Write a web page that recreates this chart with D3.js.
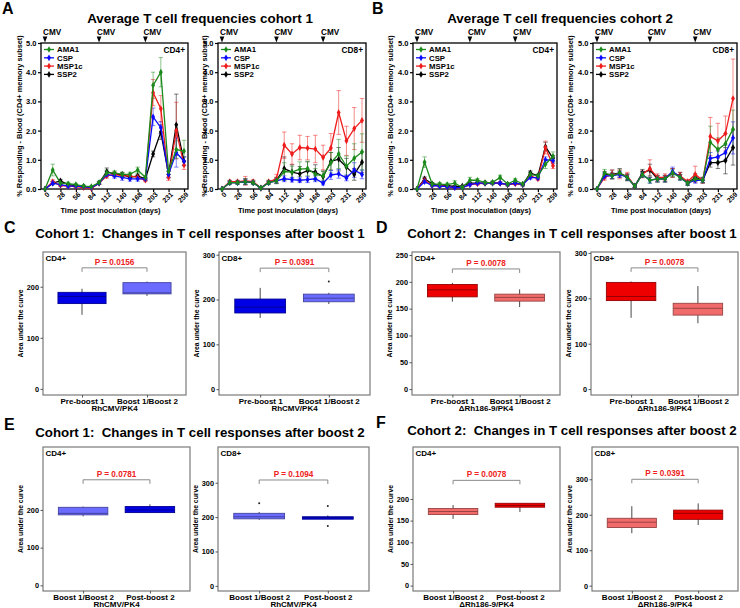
<!DOCTYPE html>
<html><head><meta charset="utf-8">
<script src="https://cdn.jsdelivr.net/npm/d3@7"></script>
<style>
body{margin:0;background:#fff}
svg{font-family:"Liberation Sans",Arial,Helvetica,sans-serif}
</style>
</head><body>
<svg id="chart" width="740" height="608"></svg>
<script>
// ---------- time-course data ----------
const days = [0,14,28,42,56,70,84,98,112,126,140,154,168,182,203,217,231,245,259];
const dayTicks = [0,28,56,84,112,140,168,203,231,259];
const cmvDays = [0,98,182];
const antigens = ["AMA1","CSP","MSP1c","SSP2"];
const antigenColors = ["#1b8a1b","#0a0aff","#ee1c1c","#000000"];

// Cohort 1, CD4+
const c1cd4_AMA1  = [0,0.65,0.2,0.18,0.15,0.1,0.08,0.22,0.55,0.55,0.5,0.5,0.65,0.4,3.55,4.0,0.6,1.35,1.3];
const c1cd4_CSP   = [0,0.2,0.15,0.1,0.1,0.08,0.05,0.2,0.5,0.45,0.4,0.35,0.35,0.35,2.47,2.1,0.5,1.25,0.95];
const c1cd4_MSP1c = [0,0.25,0.12,0.1,0.08,0.05,0.02,0.2,0.45,0.5,0.45,0.45,0.4,0.3,3.3,2.75,0.4,2.0,0.82];
const c1cd4_SSP2  = [0,0.2,0.28,0.15,0.12,0.08,0.05,0.2,0.6,0.5,0.5,0.4,0.45,0.35,1.2,1.95,0.5,2.2,0.95];
const c1cd4_AMA1_err  = [0,0.2,0.05,0.05,0.04,0.04,0.03,0.05,0.1,0.07,0.07,0.07,0.1,0.06,0.45,0.5,0.1,0.3,0.37];
const c1cd4_CSP_err   = [0,0.05,0.04,0.04,0.03,0.03,0.02,0.04,0.08,0.08,0.1,0.08,0.08,0.06,0.3,0.2,0.1,0.5,0.15];
const c1cd4_MSP1c_err = [0,0.06,0.04,0.04,0.03,0.03,0.02,0.04,0.08,0.07,0.07,0.06,0.06,0.05,0.45,0.45,0.1,0.97,0.15];
const c1cd4_SSP2_err  = [0,0.05,0.05,0.04,0.03,0.03,0.02,0.04,0.12,0.08,0.07,0.06,0.06,0.05,0.1,0.25,0.12,1.05,0.15];

// Cohort 1, CD8+
const c1cd8_AMA1  = [0,0.22,0.22,0.25,0.22,0.03,0.22,0.28,0.6,0.58,0.68,0.7,0.5,0.45,0.9,1.2,0.78,1.05,1.27];
const c1cd8_CSP   = [0,0.22,0.22,0.25,0.22,0.03,0.22,0.28,0.35,0.32,0.3,0.32,0.35,0.2,0.48,0.52,0.38,0.65,0.5];
const c1cd8_MSP1c = [0,0.25,0.25,0.28,0.25,0.03,0.25,0.35,1.5,1.2,1.42,1.4,1.37,1.08,1.4,2.62,1.65,2.07,2.35];
const c1cd8_SSP2  = [0,0.22,0.22,0.25,0.22,0.03,0.22,0.3,0.7,0.58,0.52,0.63,0.58,0.42,0.95,1.02,0.75,0.5,0.92];
const c1cd8_AMA1_err  = [0,0.05,0.05,0.1,0.05,0.02,0.05,0.1,0.3,0.2,0.25,0.25,0.2,0.15,0.35,0.5,0.35,0.5,0.62];
const c1cd8_CSP_err   = [0,0.05,0.05,0.08,0.05,0.02,0.05,0.08,0.1,0.08,0.08,0.1,0.1,0.06,0.15,0.15,0.1,0.25,0.15];
const c1cd8_MSP1c_err = [0,0.05,0.05,0.15,0.06,0.02,0.05,0.15,0.45,0.35,0.42,0.4,0.47,0.42,0.5,0.75,0.5,0.72,0.75];
const c1cd8_SSP2_err  = [0,0.05,0.05,0.1,0.05,0.02,0.05,0.1,0.4,0.25,0.25,0.3,0.25,0.2,0.3,0.4,0.3,0.2,0.35];

// Cohort 2, CD4+
const c2cd4_AMA1  = [0,0.92,0.17,0.17,0.15,0.2,0.05,0.3,0.3,0.22,0.22,0.4,0.17,0.3,0.17,0.5,0.45,0.85,1.12];
const c2cd4_CSP   = [0,0.25,0.12,0.1,0.08,0.05,0.05,0.15,0.2,0.2,0.2,0.2,0.15,0.2,0.15,0.4,0.38,1.0,0.98];
const c2cd4_MSP1c = [0,0.3,0.12,0.12,0.08,0.05,0.05,0.15,0.18,0.2,0.2,0.2,0.15,0.18,0.15,0.45,0.35,1.42,0.8];
const c2cd4_SSP2  = [0,0.35,0.18,0.12,0.12,0.08,0.1,0.2,0.2,0.2,0.22,0.2,0.15,0.2,0.15,0.55,0.45,1.45,1.05];
const c2cd4_AMA1_err  = [0,0.18,0.05,0.05,0.05,0.08,0.03,0.1,0.05,0.05,0.05,0.07,0.04,0.05,0.04,0.08,0.06,0.15,0.15];
const c2cd4_CSP_err   = [0,0.05,0.04,0.04,0.03,0.03,0.02,0.04,0.04,0.04,0.04,0.04,0.04,0.04,0.04,0.06,0.05,0.1,0.1];
const c2cd4_MSP1c_err = [0,0.06,0.04,0.04,0.03,0.03,0.02,0.04,0.04,0.04,0.04,0.04,0.04,0.04,0.04,0.06,0.05,0.22,0.1];
const c2cd4_SSP2_err  = [0,0.06,0.04,0.04,0.03,0.03,0.02,0.04,0.04,0.04,0.04,0.04,0.04,0.04,0.04,0.07,0.05,0.15,0.1];

// Cohort 2, CD8+
const c2cd8_AMA1  = [0,0.55,0.45,0.55,0.4,0.1,0.5,0.3,0.35,0.35,0.55,0.4,0.2,0.35,0.3,1.6,1.35,1.55,2.05];
const c2cd8_CSP   = [0,0.45,0.45,0.5,0.4,0.1,0.5,0.3,0.35,0.35,0.6,0.4,0.2,0.3,0.3,1.05,1.1,1.25,1.75];
const c2cd8_MSP1c = [0,0.4,0.5,0.5,0.45,0.1,0.5,0.7,0.4,0.4,0.55,0.45,0.25,0.5,0.3,1.8,1.65,1.9,3.1];
const c2cd8_SSP2  = [0,0.5,0.5,0.55,0.4,0.1,0.55,0.65,0.35,0.35,0.55,0.45,0.2,0.4,0.3,0.9,0.9,0.97,1.42];
const c2cd8_AMA1_err  = [0,0.12,0.1,0.1,0.1,0.05,0.1,0.1,0.1,0.1,0.12,0.1,0.06,0.1,0.08,0.55,0.4,0.35,0.65];
const c2cd8_CSP_err   = [0,0.1,0.1,0.1,0.1,0.05,0.1,0.1,0.1,0.1,0.15,0.1,0.06,0.1,0.08,0.2,0.2,0.25,0.55];
const c2cd8_MSP1c_err = [0,0.1,0.15,0.15,0.12,0.05,0.12,0.3,0.12,0.12,0.15,0.12,0.08,0.28,0.1,0.65,0.6,0.6,1.35];
const c2cd8_SSP2_err  = [0,0.1,0.15,0.15,0.12,0.05,0.12,0.2,0.12,0.12,0.15,0.12,0.08,0.12,0.1,0.15,0.2,0.45,0.6];

// ---------- box-plot data (low whisker, Q1, median, Q3, high whisker) ----------
const boost1Cats = ["Pre-boost 1","Boost 1/Boost 2"];
const boost2Cats = ["Boost 1/Boost 2","Post-boost 2"];
const boxC_cd4 = [[145,167,181,189,196],[182,186,188,208,210]];
const boxC_cd8 = [[159,170,183,201,226],[190,195,203,212,215]];
const outC_cd8 = [[],[240]];
const boxD_cd4 = [[163,172,185,195,198],[153,164,171,177,186]];
const boxD_cd8 = [[157,195,204,235,237],[145,163,178,189,227]];
const boxE_cd4 = [[183,187,191,207,209],[193,193,200,209,215]];
const boxE_cd8 = [[192,195,201,211,215],[195,194,198,201,205]];
const outE_cd8 = [[240],[232,174]];
const boxF_cd4 = [[154,164,171,178,186],[170,181,185,190,190]];
const boxF_cd8 = [[148,164,179,190,224],[171,187,204,213,232]];
const pValues = ["P = 0.0156","P = 0.0391","P = 0.0078","P = 0.0078","P = 0.0781","P = 0.1094","P = 0.0078","P = 0.0391"];
const blueDark = "#0000e6", blueLight = "#6b6bff", redDark = "#ee0000", redLight = "#f26b6b";

const svg = d3.select("#chart");
const F = "Liberation Sans, Arial, sans-serif";

function txt(x, y, s, size, opts={}) {
  const t = svg.append("text").attr("x", x).attr("y", y).text(s)
    .attr("font-size", size).attr("font-weight", opts.weight || "bold")
    .attr("fill", opts.fill || "#000").attr("text-anchor", opts.anchor || "start")
    .style("white-space", "pre");
  if (opts.rotate) t.attr("transform", `rotate(-90,${x},${y})`);
  return t;
}

function timePanel(x0, x1, subset, series, errs, yTitleX) {
  const yTop = 43, yBot = 189;
  const x = d3.scalePoint().domain(days).range([x0 + 4, x1 - 4]);
  const y = d3.scaleLinear().domain([0, 5]).range([yBot, yTop]);
  const g = svg.append("g");
  g.append("rect").attr("x", x0).attr("y", yTop).attr("width", x1 - x0).attr("height", yBot - yTop)
    .attr("fill", "none").attr("stroke", "#000").attr("stroke-width", 1.3);
  const ya = g.append("g").attr("transform", `translate(${x0},0)`)
    .call(d3.axisLeft(y).tickValues([0,1,2,3,4,5]).tickFormat(d3.format(".1f")).tickSize(3).tickPadding(1.5));
  ya.select(".domain").remove();
  ya.selectAll("line").attr("stroke", "#000").attr("stroke-width", 1.2);
  ya.selectAll("text").attr("font-size", 7.5).attr("font-weight", "bold").attr("font-family", F);
  const xa = g.append("g").attr("transform", `translate(0,${yBot})`)
    .call(d3.axisBottom(x).tickValues(dayTicks).tickSize(3));
  xa.select(".domain").remove();
  xa.selectAll("line").attr("stroke", "#000").attr("stroke-width", 1.2);
  xa.selectAll("text").attr("font-size", 7).attr("font-weight", "bold").attr("font-family", F)
    .attr("text-anchor", "end").attr("x", -1).attr("y", 5).attr("dy", "0.35em")
    .attr("transform", "rotate(-45)");
  // CMV markers
  cmvDays.forEach(d => {
    const cx = x(d);
    g.append("path").attr("d", `M${cx-2.3},${yTop-6.5}L${cx+2.3},${yTop-6.5}L${cx},${yTop-0.5}Z`).attr("fill", "#000");
    g.append("text").attr("x", cx - 2).attr("y", yTop - 8.5).text("CMV").attr("font-size", 8.2)
      .attr("font-weight", "bold").attr("font-family", F);
  });
  // error bars
  const order = [3, 2, 1, 0];
  order.forEach(k => {
    const col = antigenColors[k];
    const eg = g.append("g").attr("stroke", col).attr("stroke-opacity", 0.5).attr("stroke-width", 1);
    series[k].forEach((v, i) => {
      const e = errs[k][i];
      if (e <= 0) return;
      const cx = x(days[i]);
      eg.append("line").attr("x1", cx).attr("x2", cx).attr("y1", y(v - e)).attr("y2", y(v + e));
      eg.append("line").attr("x1", cx - 2.2).attr("x2", cx + 2.2).attr("y1", y(v + e)).attr("y2", y(v + e));
      eg.append("line").attr("x1", cx - 2.2).attr("x2", cx + 2.2).attr("y1", y(v - e)).attr("y2", y(v - e));
    });
  });
  const line = d3.line().x((d, i) => x(days[i])).y(d => y(d));
  const sym = d3.symbol().type(d3.symbolDiamond).size(13);
  order.forEach(k => {
    const col = antigenColors[k];
    g.append("path").datum(series[k]).attr("d", line).attr("fill", "none").attr("stroke", col).attr("stroke-width", 1.3);
    g.selectAll(null).data(series[k]).enter().append("path").attr("d", sym)
      .attr("transform", (d, i) => `translate(${x(days[i])},${y(d)})`).attr("fill", col);
  });
  // legend
  antigens.forEach((a, i) => {
    const ly = 49.5 + i * 8.3;
    g.append("line").attr("x1", x0 + 3).attr("x2", x0 + 13).attr("y1", ly).attr("y2", ly)
      .attr("stroke", antigenColors[i]).attr("stroke-width", 1.3);
    g.append("path").attr("d", sym).attr("transform", `translate(${x0 + 8},${ly})`).attr("fill", antigenColors[i]);
    g.append("text").attr("x", x0 + 16).attr("y", ly + 2.8).text(a).attr("font-size", 7.8)
      .attr("font-weight", "bold").attr("font-family", F);
  });
  txt(x1 - 3, 53, subset, 8.3, {anchor: "end"});
  txt(yTitleX, (yTop + yBot) / 2, `% Responding - Blood (${subset} memory subset)`, 7.4, {anchor: "middle", rotate: true});
  txt((x0 + x1) / 2 - 4, 213, "Time post inoculation (days)", 7.4, {anchor: "middle"});
}

function boxPanel(o) {
  const {x0, x1, yTop, yBot, domain, ticks, cats, stats, outl, colors, brY, p, subset, group} = o;
  const y = d3.scaleLinear().domain(domain).range([yBot, yTop]);
  const x = d3.scalePoint().domain(cats).range([x0, x1]).padding(0.6);
  const bw = x.step() * 0.74;
  const g = svg.append("g");
  g.append("rect").attr("x", x0).attr("y", yTop).attr("width", x1 - x0).attr("height", yBot - yTop)
    .attr("fill", "none").attr("stroke", "#7a7a7a").attr("stroke-width", 1.2);
  const ya = g.append("g").attr("transform", `translate(${x0},0)`)
    .call(d3.axisLeft(y).tickValues(ticks).tickSize(2.5).tickPadding(1.5));
  ya.select(".domain").remove();
  ya.selectAll("line").attr("stroke", "#555");
  ya.selectAll("text").attr("font-size", 7.3).attr("font-weight", "bold").attr("font-family", F);
  const xa = g.append("g").attr("transform", `translate(0,${yBot})`)
    .call(d3.axisBottom(x).tickSize(2.5).tickPadding(0.6));
  xa.select(".domain").remove();
  xa.selectAll("line").attr("stroke", "#555");
  xa.selectAll("text").attr("font-size", 8).attr("font-weight", "bold").attr("font-family", F);
  stats.forEach((s, i) => {
    const cx = x(cats[i]);
    const dark = d3.color(colors[i]).darker(1.3);
    g.append("line").attr("x1", cx).attr("x2", cx).attr("y1", y(s[0])).attr("y2", y(s[4]))
      .attr("stroke", "#333").attr("stroke-width", 0.9);
    g.append("rect").attr("x", cx - bw / 2).attr("width", bw)
      .attr("y", y(Math.max(s[1], s[3]))).attr("height", Math.abs(y(s[1]) - y(s[3])))
      .attr("fill", colors[i]).attr("stroke", dark).attr("stroke-width", 0.9);
    g.append("line").attr("x1", cx - bw / 2).attr("x2", cx + bw / 2).attr("y1", y(s[2])).attr("y2", y(s[2]))
      .attr("stroke", dark).attr("stroke-width", 1);
    (outl ? outl[i] : []).forEach(v => {
      g.append("circle").attr("cx", cx).attr("cy", y(v)).attr("r", 1).attr("fill", "#222");
    });
  });
  const xa0 = x(cats[0]), xb = x(cats[1]), by = y(brY);
  g.append("path").attr("d", `M${xa0},${by + 4}V${by}H${xb}V${by + 4}`)
    .attr("fill", "none").attr("stroke", "#8a8a8a").attr("stroke-width", 1);
  txt((xa0 + xb) / 2, by - 3, p, 8.2, {anchor: "middle", fill: "#ee2222"});
  txt(x0 + 2.5, yTop + 9, subset, 8, {});
  txt(x0 - 20, (yTop + yBot) / 2, "Area under the curve", 6.8, {anchor: "middle", rotate: true});
  txt((xa0 + xb) / 2, yBot + 16, group, 8, {anchor: "middle"});
}

// ---------- headers ----------
txt(2, 14, "A", 16);
txt(372, 14, "B", 16);
txt(200, 23, "Average T cell frequencies cohort 1", 13.4, {anchor: "middle"});
txt(560, 23, "Average T cell frequencies cohort 2", 13.4, {anchor: "middle"});

timePanel(41, 188, "CD4+", [c1cd4_AMA1, c1cd4_CSP, c1cd4_MSP1c, c1cd4_SSP2],
  [c1cd4_AMA1_err, c1cd4_CSP_err, c1cd4_MSP1c_err, c1cd4_SSP2_err], 22);
timePanel(218, 366, "CD8+", [c1cd8_AMA1, c1cd8_CSP, c1cd8_MSP1c, c1cd8_SSP2],
  [c1cd8_AMA1_err, c1cd8_CSP_err, c1cd8_MSP1c_err, c1cd8_SSP2_err], 207);
timePanel(413, 557, "CD4+", [c2cd4_AMA1, c2cd4_CSP, c2cd4_MSP1c, c2cd4_SSP2],
  [c2cd4_AMA1_err, c2cd4_CSP_err, c2cd4_MSP1c_err, c2cd4_SSP2_err], 393);
timePanel(593, 737, "CD8+", [c2cd8_AMA1, c2cd8_CSP, c2cd8_MSP1c, c2cd8_SSP2],
  [c2cd8_AMA1_err, c2cd8_CSP_err, c2cd8_MSP1c_err, c2cd8_SSP2_err], 573);

txt(4, 233, "C", 16);
txt(376, 233, "D", 16);
txt(4, 430, "E", 16);
txt(376, 428, "F", 16);
txt(200, 238, "Cohort 1:  Changes in T cell responses after boost 1", 13.3, {anchor: "middle"});
txt(572, 238, "Cohort 2:  Changes in T cell responses after boost 1", 13.3, {anchor: "middle"});
txt(200, 437, "Cohort 1:  Changes in T cell responses after boost 2", 13.3, {anchor: "middle"});
txt(572, 435, "Cohort 2:  Changes in T cell responses after boost 2", 13.3, {anchor: "middle"});

boxPanel({x0:43, x1:186, yTop:252, yBot:395, domain:[-12,268], ticks:[0,100,200], cats:boost1Cats,
  stats:boxC_cd4, outl:null, colors:[blueDark, blueLight], brY:237, p:pValues[0], subset:"CD4+", group:"RhCMV/PK4"});
boxPanel({x0:219, x1:370, yTop:252, yBot:395, domain:[-13,306], ticks:[0,100,200,300], cats:boost1Cats,
  stats:boxC_cd8, outl:outC_cd8, colors:[blueDark, blueLight], brY:270, p:pValues[1], subset:"CD8+", group:"RhCMV/PK4"});
boxPanel({x0:412, x1:560, yTop:252, yBot:395, domain:[-11,255.6], ticks:[0,50,100,150,200,250], cats:boost1Cats,
  stats:boxD_cd4, outl:null, colors:[redDark, redLight], brY:224, p:pValues[2], subset:"CD4+", group:"\u0394Rh186-9/PK4"});
boxPanel({x0:591, x1:738, yTop:252, yBot:395, domain:[-13,302], ticks:[0,100,200,300], cats:boost1Cats,
  stats:boxD_cd8, outl:null, colors:[redDark, redLight], brY:267, p:pValues[3], subset:"CD8+", group:"\u0394Rh186-9/PK4"});

boxPanel({x0:43, x1:190, yTop:447, yBot:591, domain:[-15,367], ticks:[0,100,200], cats:boost2Cats,
  stats:boxE_cd4, outl:null, colors:[blueLight, blueDark], brY:280, p:pValues[4], subset:"CD4+", group:"RhCMV/PK4"});
boxPanel({x0:218, x1:369, yTop:447, yBot:591, domain:[-15,404], ticks:[0,100,200,300], cats:boost2Cats,
  stats:boxE_cd8, outl:outE_cd8, colors:[blueLight, blueDark], brY:308, p:pValues[5], subset:"CD8+", group:"RhCMV/PK4"});
boxPanel({x0:413, x1:560, yTop:447, yBot:591, domain:[-12.5,320], ticks:[0,50,100,150,200], cats:boost2Cats,
  stats:boxF_cd4, outl:null, colors:[redLight, redDark], brY:243, p:pValues[6], subset:"CD4+", group:"\u0394Rh186-9/PK4"});
boxPanel({x0:592, x1:738, yTop:447, yBot:591, domain:[-15,391], ticks:[0,100,200,300], cats:boost2Cats,
  stats:boxF_cd8, outl:null, colors:[redLight, redDark], brY:300, p:pValues[7], subset:"CD8+", group:"\u0394Rh186-9/PK4"});
</script>
</body></html>
